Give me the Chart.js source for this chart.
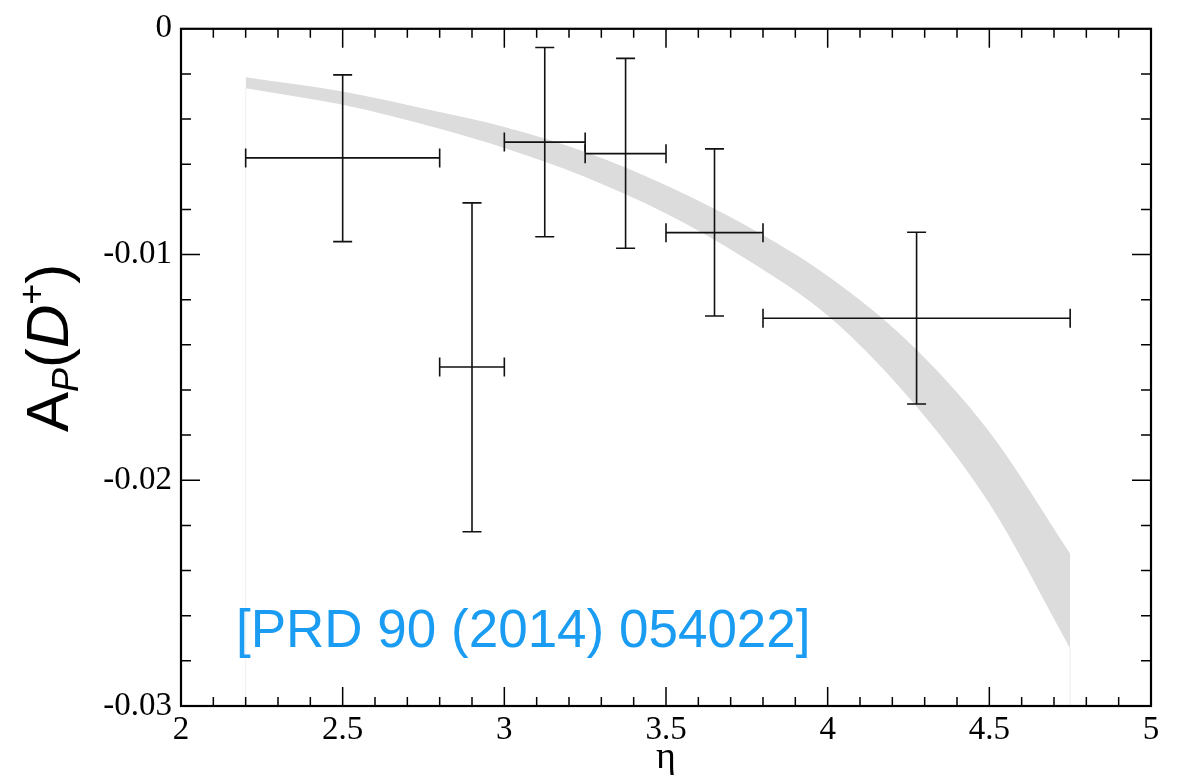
<!DOCTYPE html>
<html>
<head>
  <title>D+ asymmetry vs eta</title>
  <script src="https://cdn.jsdelivr.net/npm/chart.js"></script>
  <style>
    body {
      margin: 0;
      background: #fff;
    }
    .chart-container {
      width: 1180px;
      height: 775px;
    }
  </style>
</head>
<body>
  <div class="chart-container">
    <canvas id="myChart" width="1180" height="775"></canvas>
  </div>
  <script>
    // measured points: bin centre, bin edges, value and error ends
    var etaBin = [2.5, 2.9, 3.125, 3.375, 3.65, 4.275]
    var etaLow = [2.2, 2.8, 3.0, 3.25, 3.5, 3.8]
    var etaHigh = [2.8, 3.0, 3.25, 3.5, 3.8, 4.75]
    var asym = [-0.00572, -0.01498, -0.00502, -0.00553, -0.00903, -0.01282]
    var asymHigh = [-0.00204, -0.00771, -0.00083, -0.00131, -0.00532, -0.00901]
    var asymLow = [-0.00943, -0.02228, -0.00921, -0.00972, -0.01272, -0.01662]

    // prediction band
    var bandEta = [2.2, 2.5, 2.8, 3.0, 3.25, 3.5, 3.75, 4.0, 4.25, 4.5, 4.75]
    var bandHigh = [-0.00215, -0.00278, -0.00369, -0.00435, -0.00546, -0.00693, -0.00874, -0.01095, -0.01387, -0.01785, -0.02325]
    var bandLow = [-0.00263, -0.00337, -0.00443, -0.00528, -0.00656, -0.00818, -0.01022, -0.0127, -0.01632, -0.02103, -0.02745]

    var xTicks = [2, 2.5, 3, 3.5, 4, 4.5, 5]
    var xTickLabels = ['2', '2.5', '3', '3.5', '4', '4.5', '5']
    var yTicks = [-0.03, -0.02, -0.01, 0]
    var yTickLabels = ['-0.03', '-0.02', '-0.01', '0']

    function pts(xs, ys) {
      return xs.map(function (x, i) { return { x: x, y: ys[i] } })
    }

    // frame with inward ticks on all four sides, error bars, labels
    const framePlugin = {
      id: 'frame',
      afterDatasetsDraw(chart) {
        const c = chart.ctx
        const a = chart.chartArea
        const xs = chart.scales.x
        const ys = chart.scales.y

        // error bars
        c.save()
        c.strokeStyle = '#111'
        c.lineWidth = 1.6
        const cap = 9.5
        for (let i = 0; i < etaBin.length; i++) {
          const px = xs.getPixelForValue(etaBin[i])
          const py = ys.getPixelForValue(asym[i])
          const x0 = xs.getPixelForValue(etaLow[i])
          const x1 = xs.getPixelForValue(etaHigh[i])
          const y0 = ys.getPixelForValue(asymHigh[i])
          const y1 = ys.getPixelForValue(asymLow[i])
          c.beginPath()
          c.moveTo(x0, py); c.lineTo(x1, py)
          c.moveTo(x0, py - cap); c.lineTo(x0, py + cap)
          c.moveTo(x1, py - cap); c.lineTo(x1, py + cap)
          c.moveTo(px, y0); c.lineTo(px, y1)
          c.moveTo(px - cap, y0); c.lineTo(px + cap, y0)
          c.moveTo(px - cap, y1); c.lineTo(px + cap, y1)
          c.stroke()
        }
        c.restore()

        // ticks
        c.save()
        c.strokeStyle = '#000'
        c.lineWidth = 1.5
        c.beginPath()
        for (let i = 0; i < xTicks.length; i++) {
          const p = xs.getPixelForValue(xTicks[i])
          const len = (i === 0 || i === xTicks.length - 1) ? 0 : 19
          c.moveTo(p, a.bottom); c.lineTo(p, a.bottom - len)
          c.moveTo(p, a.top); c.lineTo(p, a.top + len)
          if (i < xTicks.length - 1) {
            const step = (xTicks[i + 1] - xTicks[i]) / 5
            for (let k = 1; k < 5; k++) {
              const q = xs.getPixelForValue(xTicks[i] + k * step)
              c.moveTo(q, a.bottom); c.lineTo(q, a.bottom - 9)
              c.moveTo(q, a.top); c.lineTo(q, a.top + 9)
            }
          }
        }
        for (let i = 0; i < yTicks.length; i++) {
          const p = ys.getPixelForValue(yTicks[i])
          const len = (i === 0 || i === yTicks.length - 1) ? 0 : 19
          c.moveTo(a.left, p); c.lineTo(a.left + len, p)
          c.moveTo(a.right, p); c.lineTo(a.right - len, p)
          if (i < yTicks.length - 1) {
            const step = (yTicks[i + 1] - yTicks[i]) / 5
            for (let k = 1; k < 5; k++) {
              const q = ys.getPixelForValue(yTicks[i] + k * step)
              c.moveTo(a.left, q); c.lineTo(a.left + 10, q)
              c.moveTo(a.right, q); c.lineTo(a.right - 10, q)
            }
          }
        }
        c.stroke()
        c.lineWidth = 2.2
        c.strokeRect(a.left, a.top, a.right - a.left, a.bottom - a.top)
        c.restore()

        // reference note
        c.save()
        c.fillStyle = '#1a9cf2'
        c.font = '53px "Liberation Sans", Arial, sans-serif'
        c.textBaseline = 'alphabetic'
        c.fillText('[PRD 90 (2014) 054022]', 236, 647)
        c.restore()

        // x axis title
        c.save()
        c.fillStyle = '#000'
        c.font = '38px "Liberation Serif", serif'
        c.textAlign = 'center'
        c.fillText('\u03b7', (a.left + a.right) / 2, 768)
        c.restore()

        // y axis title A_P(D+)
        c.save()
        c.translate(68, 432)
        c.rotate(-Math.PI / 2)
        c.fillStyle = '#000'
        c.textBaseline = 'alphabetic'
        let x = 0
        const parts = [
          ['A', 'normal 60px', 0],
          ['P', 'italic 36px', 10],
          ['(', 'normal 60px', 0],
          ['D', 'italic 60px', 0],
          ['+', 'normal 36px', -24],
          [')', 'normal 60px', 0]
        ]
        parts.forEach(function (p) {
          c.font = p[1] + ' "Liberation Sans", Arial, sans-serif'
          c.fillText(p[0], x, p[2])
          x += c.measureText(p[0]).width
        })
        c.restore()
      }
    }

    const ctx = document.getElementById('myChart').getContext('2d')
    const chart = new Chart(ctx, {
      type: 'line',
      data: {
        datasets: [
          {
            label: 'band upper',
            data: pts(bandEta, bandHigh),
            borderWidth: 0,
            borderColor: 'rgba(0,0,0,0)',
            backgroundColor: '#dcdcdc',
            fill: '+1',
            pointRadius: 0,
            cubicInterpolationMode: 'monotone'
          },
          {
            label: 'band lower',
            data: pts(bandEta, bandLow),
            borderWidth: 0,
            borderColor: 'rgba(0,0,0,0)',
            fill: false,
            pointRadius: 0,
            cubicInterpolationMode: 'monotone'
          },
          {
            label: 'band edge left',
            data: [{ x: bandEta[0], y: bandLow[0] }, { x: bandEta[0], y: yTicks[0] }],
            borderColor: '#f2f2f2',
            borderWidth: 1,
            fill: false,
            pointRadius: 0
          },
          {
            label: 'band edge right',
            data: [{ x: bandEta[bandEta.length - 1], y: bandLow[bandLow.length - 1] }, { x: bandEta[bandEta.length - 1], y: yTicks[0] }],
            borderColor: '#f2f2f2',
            borderWidth: 1,
            fill: false,
            pointRadius: 0
          },
          {
            label: 'data',
            data: pts(etaBin, asym),
            showLine: false,
            pointRadius: 0
          }
        ]
      },
      options: {
        responsive: false,
        animation: false,
        devicePixelRatio: 1,
        layout: { padding: { top: 26, right: 29, left: 0, bottom: 0 } },
        plugins: {
          legend: { display: false },
          tooltip: { enabled: false }
        },
        scales: {
          x: {
            type: 'linear',
            min: xTicks[0],
            max: xTicks[xTicks.length - 1],
            grid: { display: false, drawTicks: false },
            border: { display: false },
            afterBuildTicks: function (s) { s.ticks = xTicks.map(function (v) { return { value: v } }) },
            afterFit: function (s) { s.height = 69 },
            ticks: {
              font: { family: 'Liberation Serif', size: 33 },
              color: '#000',
              padding: 5,
              maxRotation: 0,
              autoSkip: false,
              callback: function (v, i) { return xTickLabels[i] }
            }
          },
          y: {
            type: 'linear',
            min: yTicks[0],
            max: yTicks[yTicks.length - 1],
            grid: { display: false, drawTicks: false },
            border: { display: false },
            afterBuildTicks: function (s) { s.ticks = yTicks.map(function (v) { return { value: v } }) },
            afterFit: function (s) { s.width = 181 },
            ticks: {
              font: { family: 'Liberation Serif', size: 33 },
              color: '#000',
              padding: 9,
              autoSkip: false,
              callback: function (v, i) { return yTickLabels[i] }
            }
          }
        }
      },
      plugins: [framePlugin]
    })
  </script>
</body>
</html>
